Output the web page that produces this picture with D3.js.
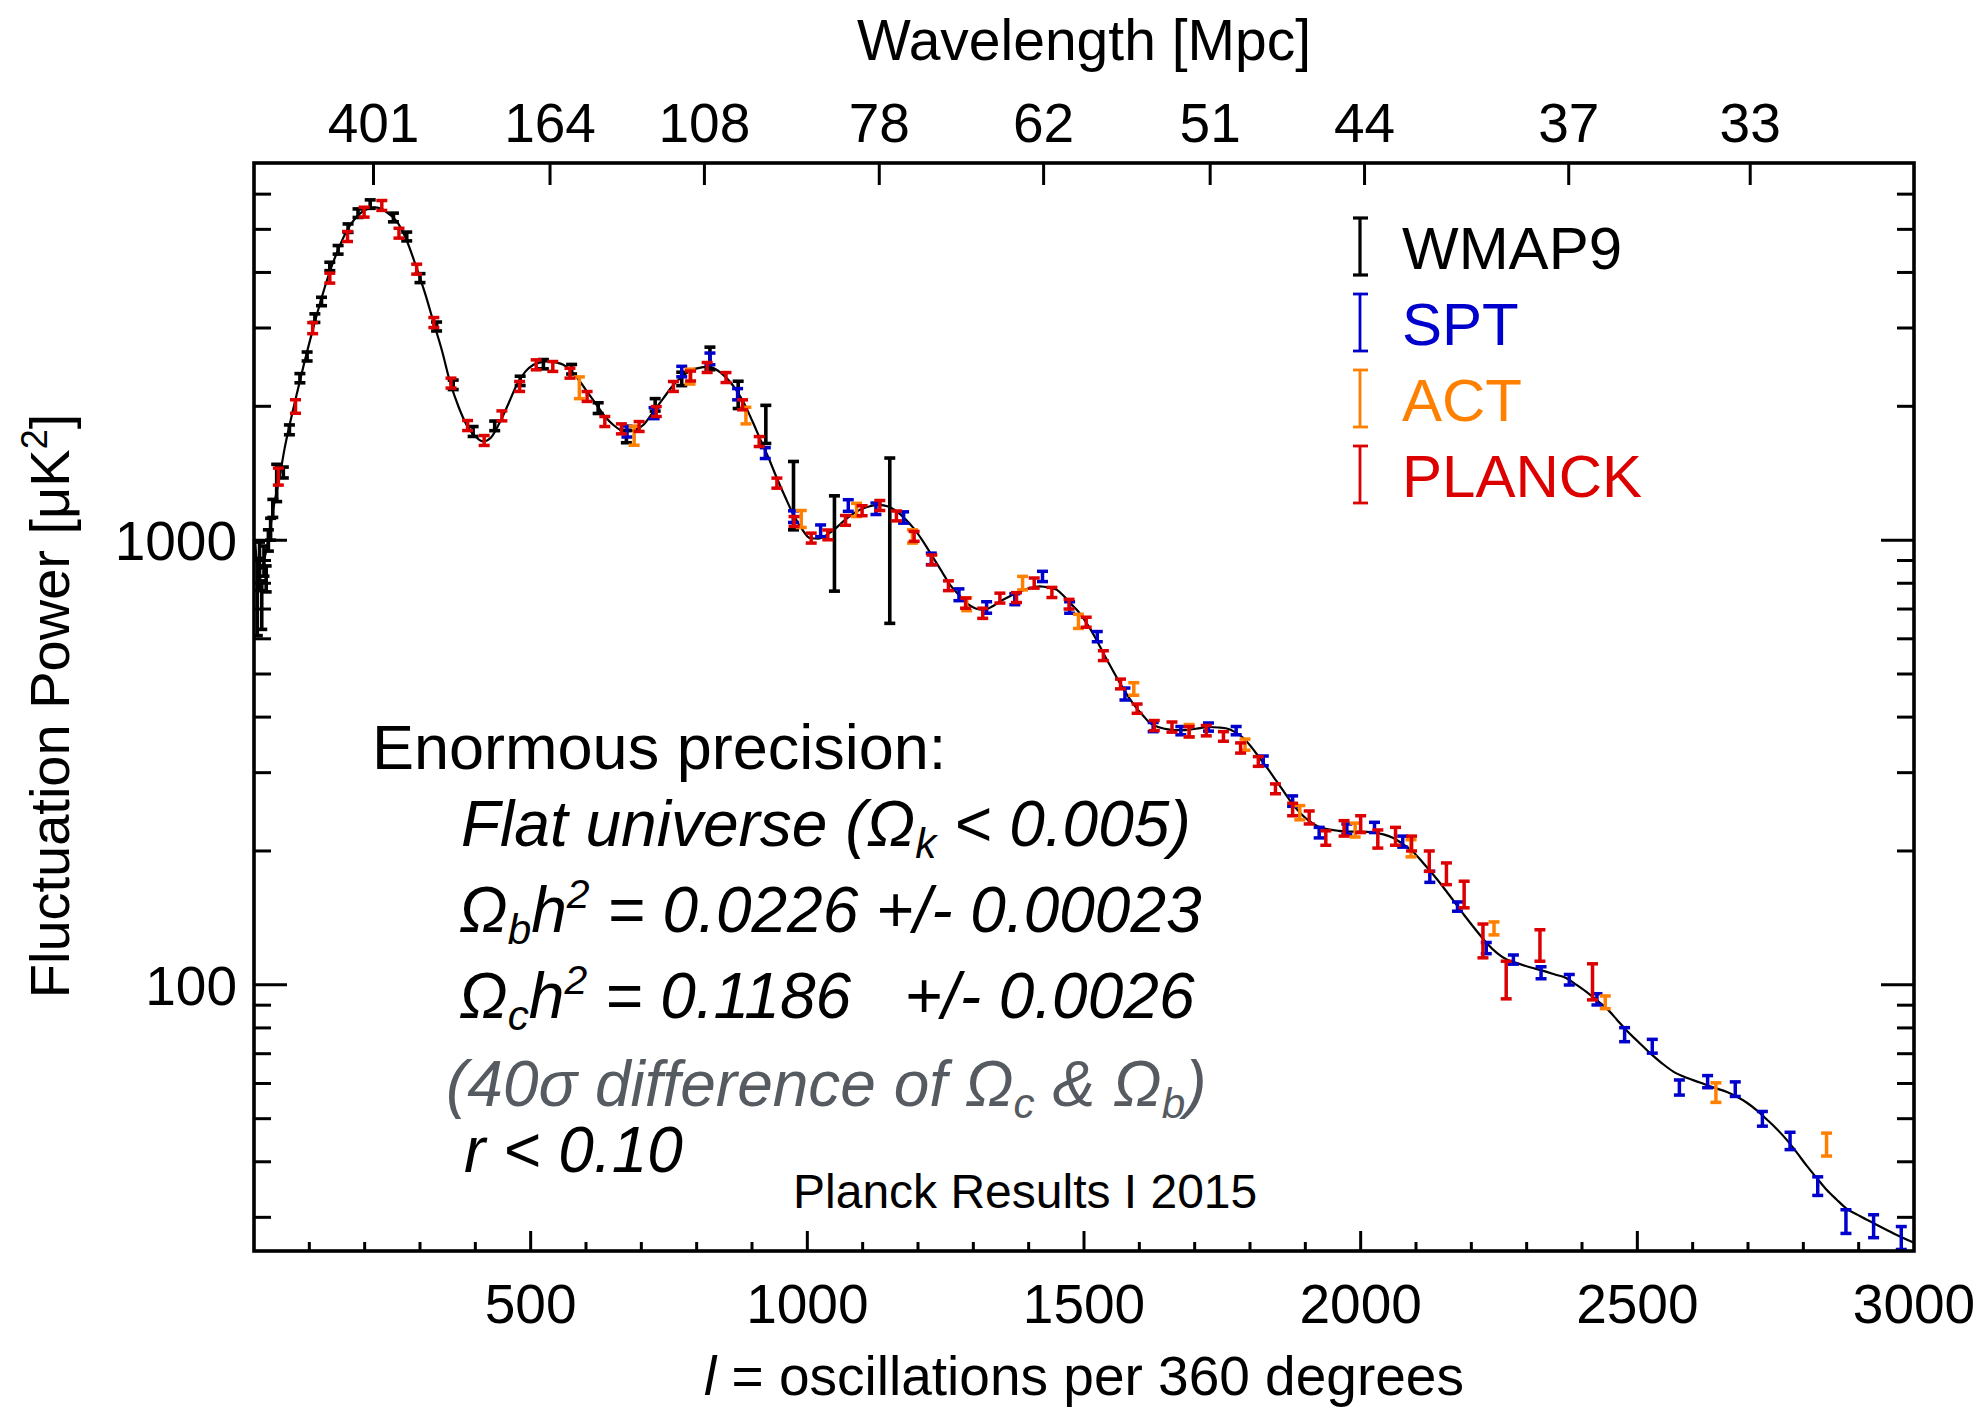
<!DOCTYPE html>
<html><head><meta charset="utf-8">
<script src="https://cdn.jsdelivr.net/npm/d3@7"></script>
<style>
html,body{margin:0;padding:0;background:#fff;}
svg{display:block;font-family:"Liberation Sans",Arial,Helvetica,sans-serif;}
</style></head><body>
<svg id="chart" width="1984" height="1410"></svg>
<script>
// ---------------- DATA ----------------
// best-fit theory curve [l, D_l]
const theory = [[2,1000],[5,900],[10,860],[15,870],[20,920],[25,990],[30,1080],[35,1180],[40,1270],[47,1403],[55,1600],[65,1830],[77,2123],[90,2480],[107,2998],[122,3500],[137,4020],[152,4500],[167,4945],[185,5330],[200,5520],[216,5600],[230,5560],[245,5400],[258,5210],[275,4750],[294,4090],[310,3560],[324,3104],[340,2660],[354,2274],[370,1990],[384,1818],[400,1710],[414,1667],[428,1700],[445,1849],[460,2030],[475,2236],[490,2390],[505,2480],[520,2515],[529,2523],[545,2510],[559,2480],[575,2390],[589,2274],[604,2140],[619,2016],[634,1900],[649,1818],[662,1770],[674,1756],[689,1770],[704,1818],[720,1930],[740,2087],[755,2210],[770,2313],[790,2410],[812,2449],[818,2459],[835,2420],[854,2314],[870,2190],[884,2051],[900,1860],[914,1696],[930,1530],[945,1378],[960,1250],[975,1140],[990,1060],[1005,1010],[1020,1008],[1035,1028],[1050,1060],[1065,1102],[1080,1140],[1095,1170],[1113,1192],[1131,1201],[1146,1190],[1162,1160],[1177,1115],[1192,1064],[1210,990],[1228,911],[1243,850],[1258,793],[1273,755],[1288,722],[1303,703],[1318,697],[1333,708],[1348,728],[1366,748],[1384,767],[1402,780],[1420,787],[1438,781],[1451,773],[1463,750],[1475,722],[1490,690],[1505,650],[1520,605],[1535,557],[1550,515],[1565,477],[1580,445],[1595,419],[1607,403],[1619,388],[1637,379],[1655,375],[1673,374],[1692,375],[1710,378],[1728,380],[1743,379],[1758,377],[1773,370],[1788,359],[1803,342],[1818,323],[1833,305],[1848,287],[1863,270],[1878,254],[1893,242],[1908,233],[1923,227],[1939,224],[1960,222],[1981,221],[2002,221],[2023,220],[2041,218],[2059,214],[2077,207],[2095,199],[2113,188],[2131,177],[2149,166],[2167,155],[2188,143],[2210,132],[2228,124],[2246,118],[2264,114],[2282,112],[2306,109.5],[2330,107.5],[2351,105.5],[2372,103.5],[2390,100],[2408,96.4],[2426,92.5],[2445,88.4],[2463,83.5],[2481,78.8],[2502,74.4],[2523,70.2],[2544,66.7],[2565,63.8],[2589,61.8],[2613,60.3],[2637,58.8],[2662,57.4],[2680,56.0],[2698,54.3],[2716,52.2],[2734,49.8],[2752,47.4],[2770,44.8],[2788,42.0],[2806,39.2],[2824,36.8],[2842,34.6],[2860,32.9],[2878,31.4],[2902,30.2],[2927,29.1],[2963,27.6],[3000,26.3]];

// experiments: [l, D_l, error]
const wmap9 = [[6,760,150],[10,880,110],[14,720,90],[18,900,70],[22,820,55],[26,1000,55],[30,1060,60],[34,1180,55],[41,1351,130],[53,1420,40],[64,1771,45],[83,2314,55],[96,2589,60],[110,3158,70],[122,3442,75],[137,4127,90],[152,4498,100],[170,5032,110],[188,5438,120],[210,5700,125],[252,5318,120],[276,4820,110],[300,3885,90],[330,3024,70],[360,2236,55],[396,1756,45],[435,1808,45],[481,2282,55],[523,2488,60],[574,2424,60],[622,1982,55],[673,1711,55],[725,2016,65],[773,2306,80],[824,2567,150],[875,2127,150],[925,1830,180],[975,1279,224],[1049,1013,245],[1149,1090,440]];

const spt = [[674,1756,50],[723,1931,55],[773,2395,65],[824,2558,77],[874,2130,62],[924,1570,44],[975,1130,34],[1024,1050,32],[1074,1197,36],[1124,1177,35],[1174,1125,33],[1224,908,27],[1274,754,23],[1324,706,21],[1375,737,21],[1425,829,22],[1474,706,21],[1524,607,16],[1574,451,14],[1625,380,9],[1675,373,8],[1725,380,8],[1775,373,8],[1824,319,8],[1877,259,7],[1925,220,6],[1975,224,6],[2025,226,6],[2076,210,6],[2125,175,5],[2175,150,3.6],[2227,121,3.5],[2276,114,2.7],[2326,106.5,3.3],[2377,102.7,2.8],[2427,92.8,2.7],[2477,77.3,2.8],[2527,72.8,2.6],[2576,58.8,2.3],[2627,60.6,1.9],[2677,58.3,2.2],[2726,50.0,1.9],[2776,44.6,2.0],[2826,35.3,1.7],[2877,29.4,1.8],[2927,28.7,1.7],[2977,27.0,1.6]];

const act = [[588,2205,124],[687,1720,85],[788,2334,90],[889,1908,82],[989,1117,49],[1089,1170,40],[1190,1020,35],[1288,718,24],[1389,801,28],[1490,657,24],[1590,463,15],[1690,373,12],[1791,347,10],[1890,244,9],[1990,223,8],[2091,203,9],[2241,134,4.5],[2442,91.4,3],[2642,57.3,2.9],[2842,43.8,2.6]];

const planck = [[44,1391,61],[75,1999,70],[106,2999,86],[137,3885,100],[169,4820,125],[199,5467,140],[231,5660,145],[262,4903,125],[294,4070,105],[325,3087,80],[356,2256,58],[386,1811,47],[416,1676,43],[448,1904,49],[480,2217,57],[510,2480,64],[540,2459,63],[571,2375,61],[602,2105,54],[634,1849,48],[664,1780,46],[696,1802,46],[727,1947,50],[758,2217,57],[789,2340,60],[819,2446,63],[853,2322,60],[883,2016,52],[913,1667,43],[945,1344,35],[976,1102,28],[1007,1011,26],[1037,1028,26],[1069,1108,28],[1099,1165,30],[1131,1197,31],[1161,1134,29],[1193,1020,26],[1225,903,23],[1255,790,20],[1286,722,19],[1317,685,18],[1348,741,19],[1378,743,19],[1410,801,21],[1442,763,20],[1473,718,18],[1504,654,17],[1535,550,14],[1566,475,12],[1596,418,10],[1627,383,10],[1659,380,10],[1690,371,10],[1721,373,10],[1752,362,9],[1783,341,9],[1815,318,8],[1846,276,7],[1877,248,8],[1907,238,8],[1937,214,8],[1970,225,9],[2000,230,10],[2031,213,10],[2063,216,10],[2092,208,8],[2124,190,10],[2155,178,10],[2187,160,11],[2221,126,11],[2263,103,10],[2324,123,10],[2419,102,9.5]];

const legendNames = ["WMAP9","SPT","ACT","PLANCK"];
const legendColors = ["#000000","#0000cc","#ff8000","#dd0000"];

const xTickValues = [500,1000,1500,2000,2500,3000];
const yTickValues = [100,1000];
const topTickL = [216,535,814,1130,1427,1728,2007,2376,2704];
const topTickLabels = ["401","164","108","78","62","51","44","37","33"];

// ---------------- LAYOUT ----------------
const L = 254, R = 1914, T = 163, B = 1251;
const svg = d3.select("#chart");
const x = d3.scaleLinear().domain([0,3000]).range([L,R]);
const y = d3.scaleLog().domain([25.2,7050]).range([B,T]);

svg.append("defs").append("clipPath").attr("id","plotclip")
  .append("rect").attr("x",L).attr("y",T).attr("width",R-L).attr("height",B-T);

// theory curve
const plot = svg.append("g").attr("clip-path","url(#plotclip)");
plot.append("path").datum(theory)
  .attr("d", d3.line().x(d=>x(d[0])).y(d=>y(d[1])).curve(d3.curveMonotoneX))
  .attr("fill","none").attr("stroke","#000").attr("stroke-width",2.2);

function drawBars(data, color, sw, cap){
  const g = plot.append("g").attr("stroke",color).attr("stroke-width",sw).attr("fill","none");
  const e = g.selectAll("g").data(data).enter().append("g");
  e.append("line").attr("x1",d=>x(d[0])).attr("x2",d=>x(d[0]))
    .attr("y1",d=>y(d[1]+d[2])).attr("y2",d=>y(d[1]-d[2]));
  e.append("line").attr("x1",d=>x(d[0])-cap).attr("x2",d=>x(d[0])+cap)
    .attr("y1",d=>y(d[1]+d[2])).attr("y2",d=>y(d[1]+d[2]));
  e.append("line").attr("x1",d=>x(d[0])-cap).attr("x2",d=>x(d[0])+cap)
    .attr("y1",d=>y(d[1]-d[2])).attr("y2",d=>y(d[1]-d[2]));
}
drawBars(wmap9, legendColors[0], 3.6, 5.5);
drawBars(spt, legendColors[1], 3.5, 5.5);
drawBars(act, legendColors[2], 3.5, 5.5);
drawBars(planck, legendColors[3], 3.5, 5.5);

// ---------------- AXES / FRAME ----------------
const ax = svg.append("g").attr("stroke","#000").attr("stroke-width",3);
const logTicks = y.ticks().filter(v => v>=y.domain()[0] && v<=6500);
logTicks.forEach(v=>{
  const major = yTickValues.includes(v);
  const len = major ? 33 : 17;
  ax.append("line").attr("x1",L).attr("x2",L+len).attr("y1",y(v)).attr("y2",y(v));
  ax.append("line").attr("x1",R).attr("x2",R-len).attr("y1",y(v)).attr("y2",y(v));
});
d3.range(100,3000,100).forEach(v=>{
  const major = v%500===0;
  const len = major ? 20 : 9;
  ax.append("line").attr("x1",x(v)).attr("x2",x(v)).attr("y1",B).attr("y2",B-len);
});
topTickL.forEach(v=>{
  ax.append("line").attr("x1",x(v)).attr("x2",x(v)).attr("y1",T).attr("y2",T+22);
});
svg.append("rect").attr("x",L).attr("y",T).attr("width",R-L).attr("height",B-T)
  .attr("fill","none").attr("stroke","#000").attr("stroke-width",3.6);

// tick labels
const lab = svg.append("g").attr("font-size",55).attr("fill","#000");
xTickValues.forEach(v=>{
  lab.append("text").attr("x",x(v)).attr("y",1323).attr("text-anchor","middle").text(v);
});
yTickValues.forEach(v=>{
  lab.append("text").attr("x",237).attr("y",y(v)+20).attr("text-anchor","end").text(v);
});
topTickL.forEach((v,i)=>{
  lab.append("text").attr("x",x(v)).attr("y",142).attr("text-anchor","middle").text(topTickLabels[i]);
});

// axis titles
svg.append("text").attr("x",(L+R)/2).attr("y",60).attr("text-anchor","middle")
  .attr("font-size",57).text("Wavelength [Mpc]");
const xt = svg.append("text").attr("x",(L+R)/2).attr("y",1395).attr("text-anchor","middle")
  .attr("font-size",55);
xt.append("tspan").attr("font-style","italic").text("l");
xt.append("tspan").text(" = oscillations per 360 degrees");
const yt = svg.append("text").attr("transform","translate(69,706) rotate(-90)")
  .attr("text-anchor","middle").attr("font-size",56);
yt.append("tspan").text("Fluctuation Power [μK");
yt.append("tspan").attr("font-size",36).attr("dy",-22).text("2");
yt.append("tspan").attr("dy",22).text("]");

// legend
const lg = svg.append("g");
legendNames.forEach((n,i)=>{
  const by = 269 + i*76;
  const g = lg.append("g").attr("stroke",legendColors[i]).attr("stroke-width",i===0?3.2:2.8);
  g.append("line").attr("x1",1360).attr("x2",1360).attr("y1",by-51).attr("y2",by+6);
  g.append("line").attr("x1",1353).attr("x2",1368).attr("y1",by-51).attr("y2",by-51);
  g.append("line").attr("x1",1353).attr("x2",1368).attr("y1",by+6).attr("y2",by+6);
  lg.append("text").attr("x",1402).attr("y",by).attr("font-size",60)
    .attr("fill",legendColors[i]).text(n);
});

// annotation
function rich(xp, yp, segs, opts){
  const t = svg.append("text").attr("x",xp).attr("y",yp).attr("font-size",opts.size)
    .attr("fill",opts.color||"#000").style("white-space","pre");
  if(opts.italic) t.attr("font-style","italic");
  let shift = 0;
  segs.forEach(s=>{
    const ts = t.append("tspan");
    let target = 0;
    if(s.sub){ target = 12; ts.attr("font-size",opts.size*0.66); }
    if(s.sup){ target = -24; ts.attr("font-size",opts.size*0.64); }
    if(target!==shift){ ts.attr("dy",target-shift); shift = target; }
    ts.text(s.t);
  });
}
rich(372,769,[{t:"Enormous precision:"}],{size:63});
rich(461,846,[{t:"Flat universe (Ω"},{t:"k",sub:1},{t:" < 0.005)"}],{size:64,italic:1});
rich(459,932,[{t:"Ω"},{t:"b",sub:1},{t:"h"},{t:"2",sup:1},{t:" = 0.0226 +/- 0.00023"}],{size:64,italic:1});
rich(459,1018,[{t:"Ω"},{t:"c",sub:1},{t:"h"},{t:"2",sup:1},{t:" = 0.1186   +/- 0.0026"}],{size:64,italic:1});
rich(446,1106,[{t:"(40σ difference of Ω"},{t:"c",sub:1},{t:" & Ω"},{t:"b",sub:1},{t:")"}],{size:64,italic:1,color:"#565b61"});
rich(464,1172,[{t:"r < 0.10"}],{size:64,italic:1});
rich(793,1208,[{t:"Planck Results I 2015"}],{size:48});
</script>
</body></html>
